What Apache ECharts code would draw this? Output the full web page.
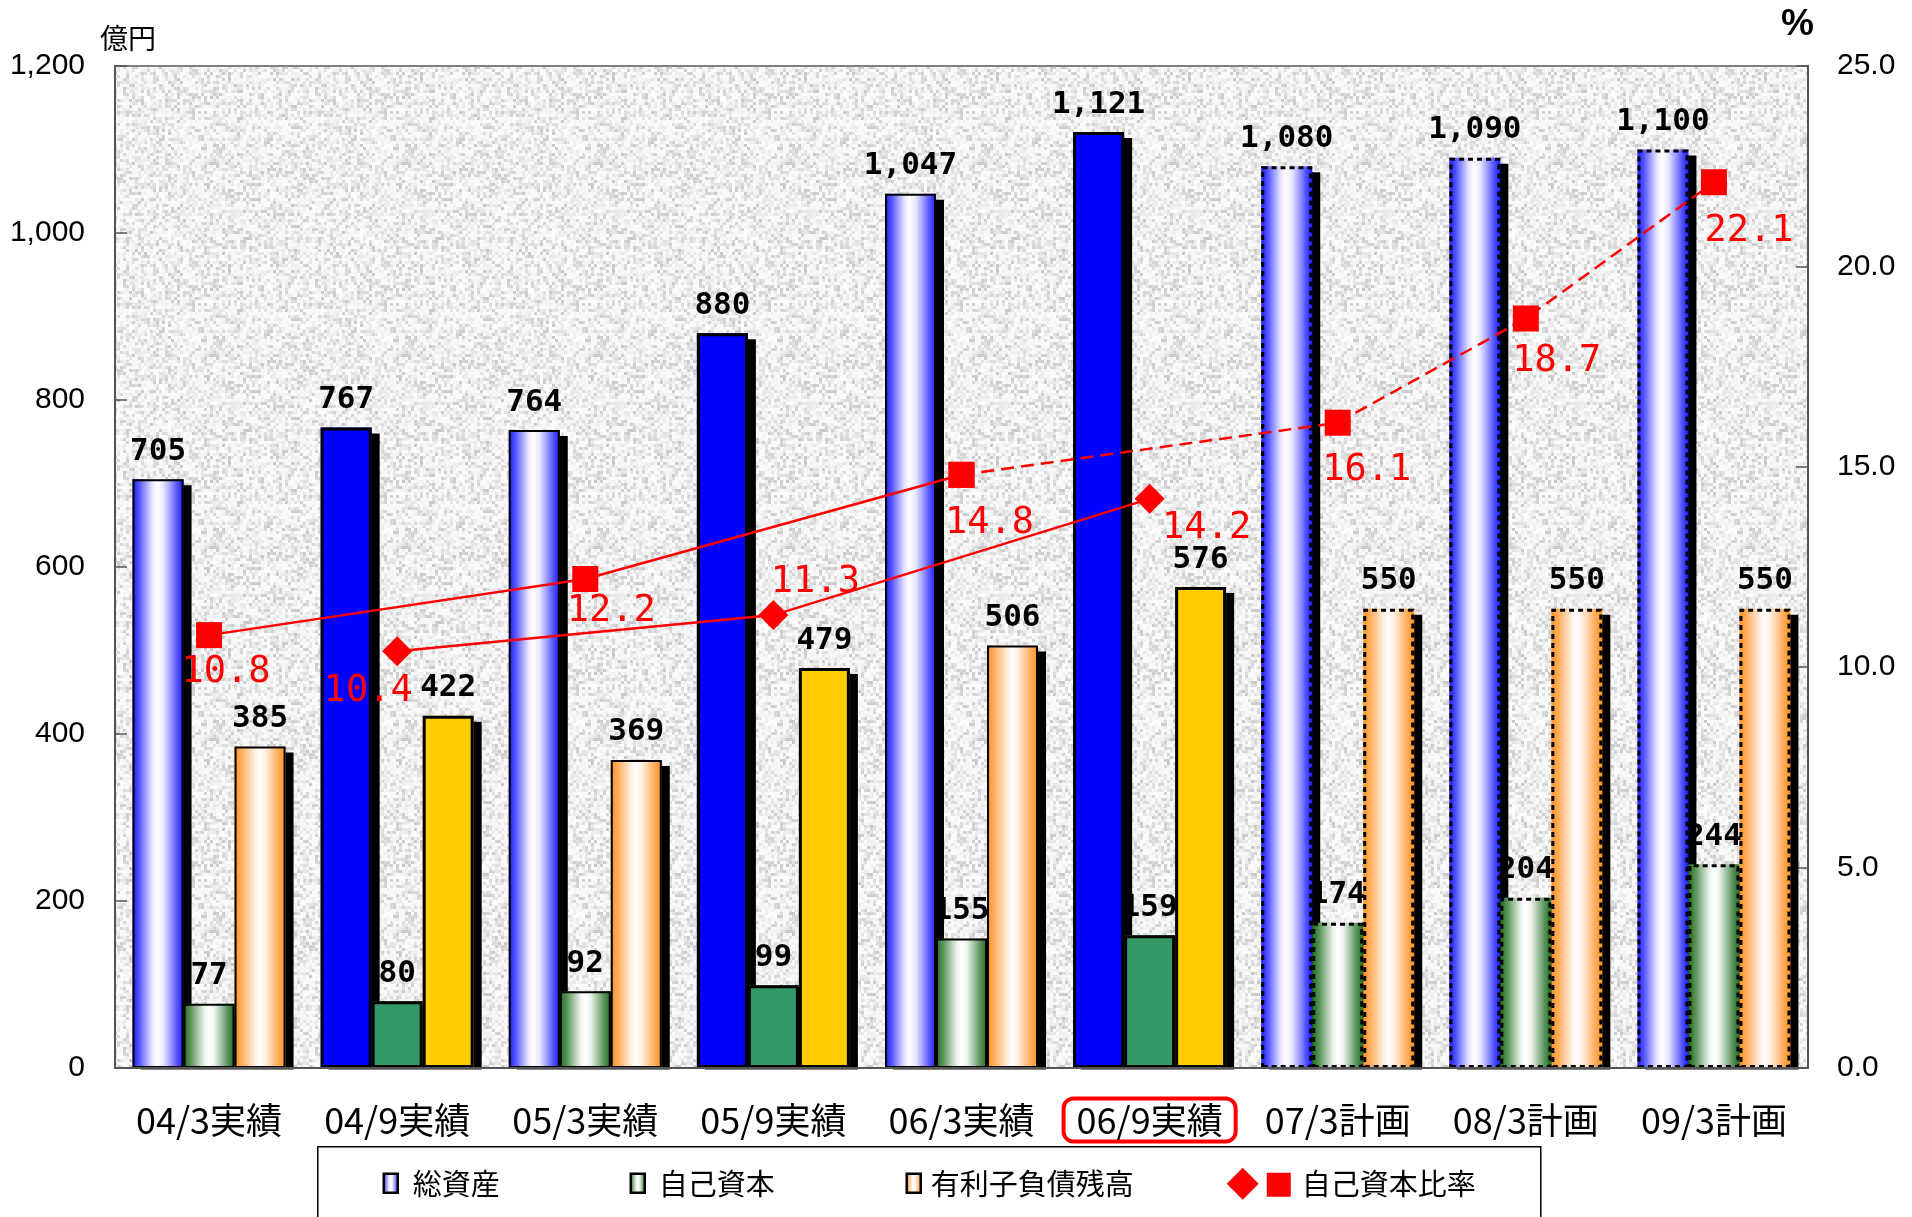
<!DOCTYPE html>
<html>
<head>
<meta charset="utf-8">
<title>総資産・自己資本・有利子負債残高の推移</title>
<script src="https://cdn.jsdelivr.net/npm/echarts@6/dist/echarts.min.js"></script>
<style>
  html, body { margin: 0; padding: 0; background: #fff; }
  #chart { width: 1912px; height: 1217px; }
</style>
</head>
<body>
<div id="chart"></div>
<script>
// Periods: actual results (March / September) and plan years
const categories = ['04/3実績', '04/9実績', '05/3実績', '05/9実績', '06/3実績', '06/9実績', '07/3計画', '08/3計画', '09/3計画'];
const periodKind = ['mar', 'sep', 'mar', 'sep', 'mar', 'sep', 'plan', 'plan', 'plan'];
const highlightIndex = 5;

// 億円
const totalAssets = [705, 767, 764, 880, 1047, 1121, 1080, 1090, 1100];
const equity      = [77, 80, 92, 99, 155, 159, 174, 204, 244];
const debt        = [385, 422, 369, 479, 506, 576, 550, 550, 550];
// %
const equityRatio = [10.8, 10.4, 12.2, 11.3, 14.8, 14.2, 16.1, 18.7, 22.1];

const leftTicks  = { min: 0, max: 1200, interval: 200 };
const rightTicks = { min: 0, max: 25, interval: 5 };

const seriesNames = ['総資産', '自己資本', '有利子負債残高', '自己資本比率'];

// label offsets of the ratio values, relative to their markers
const ratioLabelOffset = [[17, 37], [-29, 40], [26, 32], [42, -33], [28, 49], [57, 30], [29, 48], [31, 43], [35, 49]];

const LG = (stops) => new echarts.graphic.LinearGradient(0, 0, 1, 0, stops.map(c => ({ offset: c[0], color: c[1] })));

const blueGrad = () => LG([[0, '#1c1cff'], [0.12, '#4f4fff'], [0.25, '#9a9aff'], [0.38, '#e4e4ff'], [0.48, '#ffffff'], [0.6, '#e8e8ff'], [0.74, '#a0a0ff'], [0.88, '#5050ff'], [1, '#1c1cff']]);
const greenGrad = () => LG([[0, '#1f6e1f'], [0.14, '#5a935a'], [0.28, '#a8c7a8'], [0.42, '#f0f6f0'], [0.5, '#ffffff'], [0.6, '#eef4ee'], [0.74, '#a2c2a2'], [0.88, '#548e54'], [1, '#1f6e1f']]);
const orangeGrad = () => LG([[0, '#ff9326'], [0.14, '#ffac5c'], [0.28, '#ffd0a6'], [0.42, '#fff4ea'], [0.5, '#ffffff'], [0.6, '#fff0e2'], [0.74, '#ffcc9a'], [0.88, '#ffa850'], [1, '#ff9326']]);

const solidColors = ['#0000ff', '#339966', '#ffcc00'];
const gradients = [blueGrad, greenGrad, orangeGrad];

// granite-like background of the plot area
function graniteTexture() {
  const cell = 3, n = 64;
  const c = document.createElement('canvas');
  c.width = c.height = cell * n;
  const ctx = c.getContext('2d');
  let s = 20061;
  for (let y = 0; y < n; y++) {
    for (let x = 0; x < n; x++) {
      s = (s * 1103515245 + 12345) & 0x7fffffff;
      const h = s / 0x7fffffff;
      const g = Math.round(251 - 50 * Math.pow(h, 2.3));
      ctx.fillStyle = `rgb(${g},${g},${g})`;
      ctx.fillRect(x * cell, y * cell, cell, cell);
    }
  }
  return c;
}

// bar bodies: fill + drop shadow
function fillItems(values, idx) {
  return values.map((v, i) => ({
    value: v,
    itemStyle: {
      color: periodKind[i] === 'sep' ? solidColors[idx] : gradients[idx](),
      borderWidth: 0,
      shadowColor: '#000', shadowBlur: 0, shadowOffsetX: 8, shadowOffsetY: 6
    }
  }));
}

// bar outlines: solid for actuals, dashed for plans
function outlineItems(values) {
  return values.map((v, i) => {
    const kind = periodKind[i];
    const style = { color: 'rgba(0,0,0,0)', borderColor: '#000' };
    if (kind === 'sep') {
      style.borderWidth = 3;
    } else if (kind === 'mar') {
      style.borderWidth = 2;
    } else {
      style.borderWidth = 3;
      style.borderType = [5, 4];
    }
    return { value: v, itemStyle: style };
  });
}

const barLabel = {
  show: true,
  position: 'top',
  distance: 12,
  fontFamily: 'DejaVu Sans Mono',
  fontWeight: 'bold',
  fontSize: 31,
  color: '#000',
  formatter: p => Number(p.value).toLocaleString('en-US')
};

function ratioData(filterFn, labelFn) {
  return equityRatio.map((v, i) => {
    if (!filterFn(i)) return '-';
    return {
      value: v,
      label: { show: labelFn(i), offset: ratioLabelOffset[i] }
    };
  });
}

const ratioLabel = {
  position: 'inside',
  fontFamily: 'DejaVu Sans Mono',
  fontSize: 37,
  color: '#ff0000',
  formatter: p => Number(p.value).toFixed(1)
};

const lastActualMar = 4;
const barValues = [totalAssets, equity, debt];

const chart = echarts.init(document.getElementById('chart'), null, { renderer: 'canvas' });

const fillSeries = barValues.map((vals, k) => ({
  name: seriesNames[k], type: 'bar', xAxisIndex: 0, yAxisIndex: 0,
  barWidth: 51, barGap: '0%',
  data: fillItems(vals, k), z: 2, silent: true
}));

const outlineSeries = barValues.map((vals, k) => ({
  name: seriesNames[k], type: 'bar', xAxisIndex: 1, yAxisIndex: 0,
  barWidth: 51, barGap: '0%',
  data: outlineItems(vals), label: barLabel, z: 3, silent: true
}));

const valueAxisLabel = {
  fontFamily: 'Liberation Sans', fontSize: 30, color: '#000',
  padding: [7, 0, 0, 0]
};

const option = {
  animation: false,
  backgroundColor: '#ffffff',
  grid: {
    left: 115, right: 104, top: 66, bottom: 149,
    show: true,
    borderColor: '#808080',
    borderWidth: 2,
    backgroundColor: { image: graniteTexture(), repeat: 'repeat' }
  },
  xAxis: [
    {
      type: 'category',
      data: categories,
      z: 10,
      axisLine: { lineStyle: { color: '#555', width: 2 } },
      axisTick: { inside: true, length: 12, lineStyle: { color: '#555', width: 1.5 } },
      axisLabel: {
        interval: 0,
        margin: 52,
        verticalAlign: 'middle',
        formatter: (v, i) => i === highlightIndex ? `{hl|${v}}` : `{n|${v}}`,
        rich: {
          n: { fontFamily: 'Noto Sans CJK JP', fontSize: 36, color: '#000', lineHeight: 40 },
          hl: {
            fontFamily: 'Noto Sans CJK JP', fontSize: 36, color: '#000', lineHeight: 40,
            borderColor: '#ff0000', borderWidth: 4, borderRadius: 10,
            padding: [4, 13, 3, 13]
          }
        }
      }
    },
    {
      type: 'category',
      data: categories,
      show: false
    }
  ],
  yAxis: [
    {
      type: 'value',
      min: leftTicks.min, max: leftTicks.max, interval: leftTicks.interval,
      axisLine: { show: true, lineStyle: { color: '#555', width: 2 } },
      axisTick: { show: true, inside: true, length: 12, lineStyle: { color: '#555', width: 1.5 } },
      splitLine: { show: false },
      axisLabel: Object.assign({ margin: 30, formatter: v => v.toLocaleString('en-US') }, valueAxisLabel)
    },
    {
      type: 'value',
      min: rightTicks.min, max: rightTicks.max, interval: rightTicks.interval,
      axisLine: { show: true, lineStyle: { color: '#555', width: 2 } },
      axisTick: { show: true, inside: true, length: 12, lineStyle: { color: '#555', width: 1.5 } },
      splitLine: { show: false },
      axisLabel: Object.assign({ margin: 29, formatter: v => v.toFixed(1) }, valueAxisLabel)
    }
  ],
  series: [
    ...fillSeries,
    ...outlineSeries,
    {
      // March actuals, solid line
      name: seriesNames[3], type: 'line', xAxisIndex: 0, yAxisIndex: 1,
      connectNulls: true,
      symbol: 'rect', symbolSize: 26,
      lineStyle: { color: '#ff0000', width: 2.5 },
      itemStyle: { color: '#ff0000' },
      label: ratioLabel,
      data: ratioData(i => periodKind[i] === 'mar', () => true),
      z: 5
    },
    {
      // plan years, dashed continuation
      name: seriesNames[3], type: 'line', xAxisIndex: 0, yAxisIndex: 1,
      connectNulls: true,
      symbol: 'rect', symbolSize: 26,
      lineStyle: { color: '#ff0000', width: 2.5, type: [13, 7] },
      itemStyle: { color: '#ff0000' },
      label: ratioLabel,
      data: ratioData(i => periodKind[i] === 'plan' || i === lastActualMar, i => periodKind[i] === 'plan'),
      z: 5
    },
    {
      // September actuals
      name: seriesNames[3], type: 'line', xAxisIndex: 0, yAxisIndex: 1,
      connectNulls: true,
      symbol: 'diamond', symbolSize: 30,
      lineStyle: { color: '#ff0000', width: 2.5 },
      itemStyle: { color: '#ff0000' },
      label: ratioLabel,
      data: ratioData(i => periodKind[i] === 'sep', () => true),
      z: 5
    }
  ],
  graphic: [
    // keeps the bar shadows inside the plot area
    { type: 'rect', z: 4, silent: true, shape: { x: 100, y: 1069.5, width: 1730, height: 18 }, style: { fill: '#fff' } },
    { type: 'text', left: 100, top: 24, style: { text: '億円', font: '28px "Noto Sans CJK JP"', fill: '#000' } },
    { type: 'text', left: 1781, top: 6, style: { text: '%', font: 'bold 37px "Liberation Sans"', fill: '#000' } },
    {
      type: 'group', left: 317, top: 1146,
      children: [
        { type: 'rect', shape: { x: 0, y: 0, width: 1223, height: 110 }, style: { fill: '#fff', stroke: '#000', lineWidth: 1.5 } },
        { type: 'rect', shape: { x: 66, y: 27, width: 14, height: 19 }, style: { fill: blueGrad(), stroke: '#000', lineWidth: 2.5 } },
        { type: 'text', x: 95, y: 37, style: { text: seriesNames[0], font: '29px "Noto Sans CJK JP"', fill: '#000', verticalAlign: 'middle' } },
        { type: 'rect', shape: { x: 313, y: 27, width: 14, height: 19 }, style: { fill: greenGrad(), stroke: '#000', lineWidth: 2.5 } },
        { type: 'text', x: 341, y: 37, style: { text: seriesNames[1], font: '29px "Noto Sans CJK JP"', fill: '#000', verticalAlign: 'middle' } },
        { type: 'rect', shape: { x: 589, y: 27, width: 14, height: 19 }, style: { fill: orangeGrad(), stroke: '#000', lineWidth: 2.5 } },
        { type: 'text', x: 613, y: 37, style: { text: seriesNames[2], font: '29px "Noto Sans CJK JP"', fill: '#000', verticalAlign: 'middle' } },
        { type: 'polygon', shape: { points: [[909, 37], [925, 21], [941, 37], [925, 53]] }, style: { fill: '#ff0000' } },
        { type: 'rect', shape: { x: 949, y: 26, width: 24, height: 24 }, style: { fill: '#ff0000' } },
        { type: 'text', x: 984, y: 37, style: { text: seriesNames[3], font: '29px "Noto Sans CJK JP"', fill: '#000', verticalAlign: 'middle' } }
      ]
    }
  ]
};

chart.setOption(option);
</script>
</body>
</html>
